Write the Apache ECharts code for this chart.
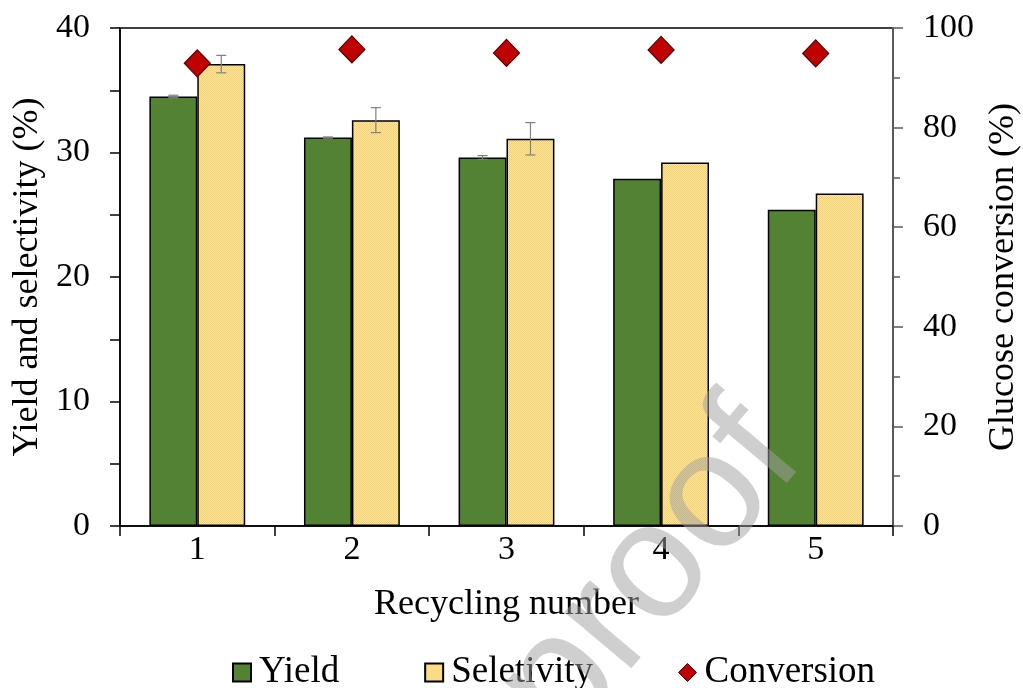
<!DOCTYPE html>
<html>
<head>
<meta charset="utf-8">
<style>
  html, body { margin: 0; padding: 0; background: #ffffff; }
  #chart { width: 1023px; height: 688px; }
</style>
<script src="https://cdn.jsdelivr.net/npm/echarts@6/dist/echarts.min.js"></script>
</head>
<body>
<div id="chart"></div>
<script>
// Catalyst recycling runs
const categories = ['1', '2', '3', '4', '5'];
const yieldValues = [34.5, 31.2, 29.6, 27.9, 25.4];
const yieldErrors = [0.1, 0.05, 0.15, 0, 0];
const selectivityValues = [37.1, 32.6, 31.1, 29.2, 26.7];
const selectivityErrors = [0.7, 1.0, 1.3, 0, 0];
const conversionValues = [92.9, 95.7, 95.0, 95.6, 94.9];

const FONT = '"Liberation Serif", "Times New Roman", serif';
const BAR_WIDTH_FRAC = 0.31;

// Fine dotted fill for the selectivity bars
function dottedPattern() {
  const c = document.createElement('canvas');
  c.width = 2; c.height = 2;
  const ctx = c.getContext('2d');
  ctx.fillStyle = '#FFE697';
  ctx.fillRect(0, 0, 2, 2);
  ctx.fillStyle = '#F3D079';
  ctx.fillRect(0, 0, 1, 1);
  ctx.fillRect(1, 1, 1, 1);
  return c;
}
const yellowFill = { image: dottedPattern(), repeat: 'repeat' };

// Error bars drawn centred on one of the two bars in each group
function errorBarSeries(values, errors, side) {
  const data = values.map((v, i) => [i, v, errors[i]]);
  return {
    type: 'custom',
    name: 'err' + side,
    yAxisIndex: 0,
    z: 5,
    silent: true,
    data: data,
    renderItem: function (params, api) {
      const idx = api.value(0);
      const val = api.value(1);
      const err = api.value(2);
      if (!err) return null;
      const band = api.size([1, 0])[0];
      const offset = side * band * BAR_WIDTH_FRAC / 2;
      const hi = api.coord([idx, val + err]);
      const lo = api.coord([idx, val - err]);
      const x = hi[0] + offset;
      const cap = 5;
      const st = { stroke: '#808080', lineWidth: 1.2 };
      return {
        type: 'group',
        children: [
          { type: 'line', shape: { x1: x, y1: hi[1], x2: x, y2: lo[1] }, style: st },
          { type: 'line', shape: { x1: x - cap, y1: hi[1], x2: x + cap, y2: hi[1] }, style: st },
          { type: 'line', shape: { x1: x - cap, y1: lo[1], x2: x + cap, y2: lo[1] }, style: st }
        ]
      };
    }
  };
}

const chart = echarts.init(document.getElementById('chart'), null, { renderer: 'canvas' });

chart.setOption({
  backgroundColor: '#ffffff',
  animation: false,
  textStyle: { fontFamily: FONT, color: '#000' },
  grid: {
    left: 120, right: 130, top: 28, bottom: 162,
    containLabel: false,
    outerBoundsMode: 'none',
    show: true, borderColor: '#000', borderWidth: 1.5, backgroundColor: 'transparent'
  },
  legend: {
    left: 227, top: 649,
    itemGap: 85, itemWidth: 18, itemHeight: 18,
    textStyle: { fontFamily: FONT, fontSize: 37, color: '#000', padding: [0, 0, 0, 3] },
    data: [
      { name: 'Yield', icon: 'rect' },
      { name: 'Seletivity', icon: 'rect' },
      { name: 'Conversion', icon: 'diamond', itemStyle: { borderWidth: 1 } }
    ]
  },
  xAxis: {
    type: 'category',
    data: categories,
    name: 'Recycling number',
    nameLocation: 'middle',
    nameGap: 61,
    nameTextStyle: { fontFamily: FONT, fontSize: 36, color: '#000' },
    axisLine: { lineStyle: { color: '#000', width: 1.5 } },
    axisTick: { show: true, length: 10, lineStyle: { color: '#000', width: 1.5 } },
    axisLabel: { fontFamily: FONT, fontSize: 34, color: '#000', margin: 7 },
    splitLine: { show: false }
  },
  yAxis: [
    {
      type: 'value',
      min: 0, max: 40, interval: 10,
      name: 'Yield and selectivity (%)',
      nameLocation: 'middle',
      nameGap: 73,
      nameRotate: 90,
      nameTextStyle: { fontFamily: FONT, fontSize: 36, color: '#000' },
      axisLine: { show: true, lineStyle: { color: '#000', width: 1.5 } },
      axisTick: { show: true, length: 10, lineStyle: { color: '#000', width: 1.5 } },
      minorTick: { show: true, splitNumber: 2, length: 10, lineStyle: { color: '#000', width: 1.5 } },
      axisLabel: { fontFamily: FONT, fontSize: 34, color: '#000', margin: 30 },
      splitLine: { show: false }
    },
    {
      type: 'value',
      position: 'right',
      min: 0, max: 100, interval: 20,
      name: 'Glucose conversion (%)',
      nameLocation: 'middle',
      nameGap: 93,
      nameRotate: 90,
      nameTextStyle: { fontFamily: FONT, fontSize: 36, color: '#000' },
      axisLine: { show: true, lineStyle: { color: '#595959', width: 2 } },
      axisTick: { show: true, length: 10, lineStyle: { color: '#595959', width: 1.5 } },
      minorTick: { show: true, splitNumber: 2, length: 7, lineStyle: { color: '#595959', width: 1.5 } },
      axisLabel: { fontFamily: FONT, fontSize: 34, color: '#000', margin: 30 },
      splitLine: { show: false }
    }
  ],
  series: [
    {
      name: 'Yield',
      type: 'bar',
      yAxisIndex: 0,
      data: yieldValues,
      barWidth: (BAR_WIDTH_FRAC * 100) + '%',
      barGap: '0%',
      itemStyle: { color: '#548233', borderColor: '#000', borderWidth: 1.5 }
    },
    {
      name: 'Seletivity',
      type: 'bar',
      yAxisIndex: 0,
      data: selectivityValues,
      barWidth: (BAR_WIDTH_FRAC * 100) + '%',
      barGap: '0%',
      itemStyle: { color: yellowFill, borderColor: '#000', borderWidth: 1.5 }
    },
    {
      name: 'Conversion',
      type: 'scatter',
      yAxisIndex: 1,
      data: conversionValues,
      symbol: 'diamond',
      symbolSize: [26, 27],
      z: 6,
      itemStyle: { color: '#C00000', borderColor: '#500000', borderWidth: 1.2, opacity: 1 }
    },
    errorBarSeries(yieldValues, yieldErrors, -1),
    errorBarSeries(selectivityValues, selectivityErrors, 1)
  ],
  graphic: [
    {
      type: 'text',
      x: 772, y: 430,
      rotation: 50 * Math.PI / 180,
      z: 100,
      silent: true,
      style: {
        text: 'Journal Pre-proof',
        font: '165px "Liberation Sans", Arial, sans-serif',
        fill: 'rgba(160,160,160,0.5)',
        align: 'right',
        verticalAlign: 'middle'
      }
    }
  ]
});
</script>
</body>
</html>
